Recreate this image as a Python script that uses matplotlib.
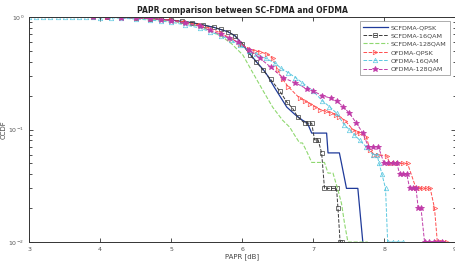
import matplotlib
matplotlib.use("Agg")
import matplotlib.pyplot as plt

# SCFDMA-QPSK (solid, no marker)
ux = [3.9, 4.3, 4.7, 5.0, 5.3, 5.6, 5.8, 5.9, 6.0, 6.11, 6.2, 6.3, 6.36, 6.46, 6.63, 6.75,
      6.85, 6.92, 6.98, 7.19, 7.21, 7.37, 7.40, 7.47, 7.63, 7.70]
uy = [1.0, 0.995, 0.97, 0.94, 0.89, 0.81, 0.74, 0.68, 0.58, 0.47, 0.40, 0.34, 0.30, 0.234, 0.158, 0.135,
      0.121, 0.114, 0.093, 0.093, 0.062, 0.062, 0.05, 0.03, 0.03, 0.01]

# SCFDMA-16QAM
bx = [3.9, 4.1, 4.3, 4.5, 4.7, 4.85, 5.0, 5.15, 5.3, 5.45, 5.6, 5.7, 5.8, 5.9, 6.0, 6.11, 6.2,
      6.29, 6.4, 6.53, 6.63, 6.71, 6.78, 6.88, 6.93, 6.98, 7.02, 7.07, 7.12, 7.16, 7.22, 7.28,
      7.33, 7.35, 7.38, 7.40]
by = [1.0, 1.0, 0.995, 0.985, 0.97, 0.955, 0.94, 0.915, 0.89, 0.85, 0.81, 0.775, 0.74, 0.68, 0.58,
      0.46, 0.40, 0.34, 0.28, 0.22, 0.175, 0.155, 0.13, 0.114, 0.114, 0.114, 0.081, 0.081, 0.062,
      0.03, 0.03, 0.03, 0.03, 0.02, 0.01, 0.01]

# SCFDMA-128QAM
gx = [3.9, 4.3, 4.7, 5.0, 5.3, 5.5, 5.7, 5.85, 6.01, 6.15, 6.29, 6.43, 6.57, 6.67, 6.74, 6.81,
      6.85, 6.92, 6.98, 7.16, 7.21, 7.28, 7.35, 7.40, 7.44, 7.49, 7.77]
gy = [1.0, 0.99, 0.96, 0.92, 0.86, 0.78, 0.68, 0.58, 0.46, 0.32, 0.224, 0.158, 0.121, 0.105, 0.089,
      0.076, 0.076, 0.062, 0.051, 0.051, 0.041, 0.041, 0.029, 0.022, 0.015, 0.01, 0.01]

# OFDMA-QPSK
rx = [3.9, 4.1, 4.3, 4.5, 4.7, 4.85, 5.0, 5.2, 5.4, 5.55, 5.7, 5.85, 5.97, 6.1, 6.18, 6.25, 6.35,
      6.43, 6.5, 6.57, 6.65, 6.81, 6.88, 6.95, 7.02, 7.1, 7.18, 7.25, 7.32, 7.37, 7.45, 7.56,
      7.62, 7.66, 7.75, 7.8, 7.86, 7.92, 8.04, 8.08, 8.14, 8.2, 8.27, 8.33, 8.45, 8.5, 8.55,
      8.6, 8.65, 8.71, 8.75, 8.79, 8.82, 8.85, 8.88]
ry = [1.0, 1.0, 0.995, 0.985, 0.97, 0.955, 0.94, 0.9, 0.85, 0.79, 0.72, 0.64, 0.58, 0.52, 0.5,
      0.49, 0.47, 0.43, 0.34, 0.28, 0.24, 0.19, 0.18, 0.17, 0.16, 0.15, 0.145, 0.14, 0.135, 0.13,
      0.12, 0.10, 0.095, 0.093, 0.086, 0.066, 0.06, 0.06, 0.058, 0.05, 0.05, 0.05, 0.05, 0.05,
      0.03, 0.03, 0.03, 0.03, 0.03, 0.02, 0.01, 0.01, 0.01, 0.01, 0.01]

# OFDMA-16QAM
cx = [3.0, 3.1, 3.2, 3.3, 3.4, 3.5, 3.6, 3.7, 3.8, 3.9, 4.0, 4.15, 4.3, 4.5, 4.7, 4.85, 5.0,
      5.2, 5.4, 5.55, 5.7, 5.85, 5.97, 6.1, 6.2, 6.33, 6.46, 6.55, 6.65, 6.75, 6.85, 7.0, 7.13,
      7.23, 7.33, 7.44, 7.51, 7.58, 7.66, 7.75, 7.84, 7.9, 7.93, 7.97, 8.02, 8.05, 8.12, 8.19, 8.26]
cy = [1.0, 1.0, 1.0, 1.0, 1.0, 1.0, 1.0, 1.0, 1.0, 1.0, 0.99, 0.985, 0.975, 0.96, 0.94, 0.92, 0.9,
      0.85, 0.8, 0.74, 0.68, 0.62, 0.56, 0.5, 0.47, 0.43, 0.39, 0.35, 0.32, 0.29, 0.26, 0.22, 0.18,
      0.16, 0.14, 0.11, 0.10, 0.09, 0.08, 0.07, 0.06, 0.06, 0.05, 0.04, 0.03, 0.01, 0.01, 0.01, 0.01]

# OFDMA-128QAM
mx = [3.9, 4.1, 4.3, 4.5, 4.7, 4.85, 5.0, 5.2, 5.4, 5.55, 5.7, 5.82, 5.94, 6.1, 6.25, 6.4, 6.57,
      6.75, 6.91, 7.0, 7.13, 7.25, 7.33, 7.42, 7.51, 7.61, 7.70, 7.78, 7.85, 7.92, 8.0, 8.06,
      8.12, 8.18, 8.22, 8.27, 8.32, 8.36, 8.41, 8.45, 8.48, 8.52, 8.57, 8.63, 8.7, 8.76, 8.82]
my = [1.0, 1.0, 0.99, 0.98, 0.97, 0.95, 0.93, 0.88, 0.83, 0.76, 0.7, 0.65, 0.6, 0.51, 0.43, 0.36,
      0.29, 0.26, 0.23, 0.22, 0.20, 0.19, 0.18, 0.16, 0.14, 0.114, 0.093, 0.07, 0.07, 0.07, 0.05,
      0.05, 0.05, 0.05, 0.04, 0.04, 0.04, 0.03, 0.03, 0.03, 0.02, 0.02, 0.01, 0.01, 0.01, 0.01, 0.01]

labels = ["SCFDMA-QPSK", "SCFDMA-16QAM", "SCFDMA-128QAM", "OFDMA-QPSK", "OFDMA-16QAM", "OFDMA-128QAM"]

fig = plt.figure(figsize=(4.56, 2.66), dpi=100)
ax = fig.add_axes([0.064, 0.09, 0.934, 0.846])

ms = 3.2
ax.semilogy(ux, uy, "-", color="#1f3a9a", lw=0.9, label=labels[0])
ax.semilogy(bx, by, "--s", color="#3a3a3a", lw=0.7, ms=ms, mfc="none", mew=0.5, label=labels[1])
ax.semilogy(gx, gy, "--", color="#8fd870", lw=0.8, label=labels[2])
ax.semilogy(rx, ry, "-->", color="#ff4d4d", lw=0.7, ms=ms, mfc="none", mew=0.5, label=labels[3])
ax.semilogy(cx, cy, "--^", color="#5cc8e0", lw=0.7, ms=ms, mfc="none", mew=0.5, label=labels[4])
ax.semilogy(mx, my, "--*", color="#c03aa8", lw=0.7, ms=4, mew=0.6, label=labels[5])

ax.set_xlim(3, 9)
ax.set_ylim(0.01, 1)
ax.set_xticks([3, 4, 5, 6, 7, 8, 9])
ax.tick_params(which="both", direction="in", top=True, right=True, labelsize=4.5,
               labelcolor="#555555", color="#333333", width=0.6)
ax.tick_params(which="major", length=3)
ax.tick_params(which="minor", length=1.8)
for s in ax.spines.values():
    s.set_linewidth(0.7)
    s.set_color("#333333")

ax.set_title("PAPR comparison between SC-FDMA and OFDMA", fontsize=5.5, fontweight="bold",
             color="#222222", pad=3)
ax.set_xlabel("PAPR [dB]", fontsize=5, color="#444444", labelpad=1)
ax.set_ylabel("CCDF", fontsize=5, color="#444444", labelpad=1)

leg = ax.legend(loc="upper right", bbox_to_anchor=(0.995, 0.995), fontsize=4.6, frameon=True,
                fancybox=False, edgecolor="#888888", handlelength=4, labelspacing=0.45,
                borderpad=0.5, handletextpad=0.4, labelcolor="#444444")
leg.get_frame().set_linewidth(0.6)

fig.savefig("out.png", dpi=100)
